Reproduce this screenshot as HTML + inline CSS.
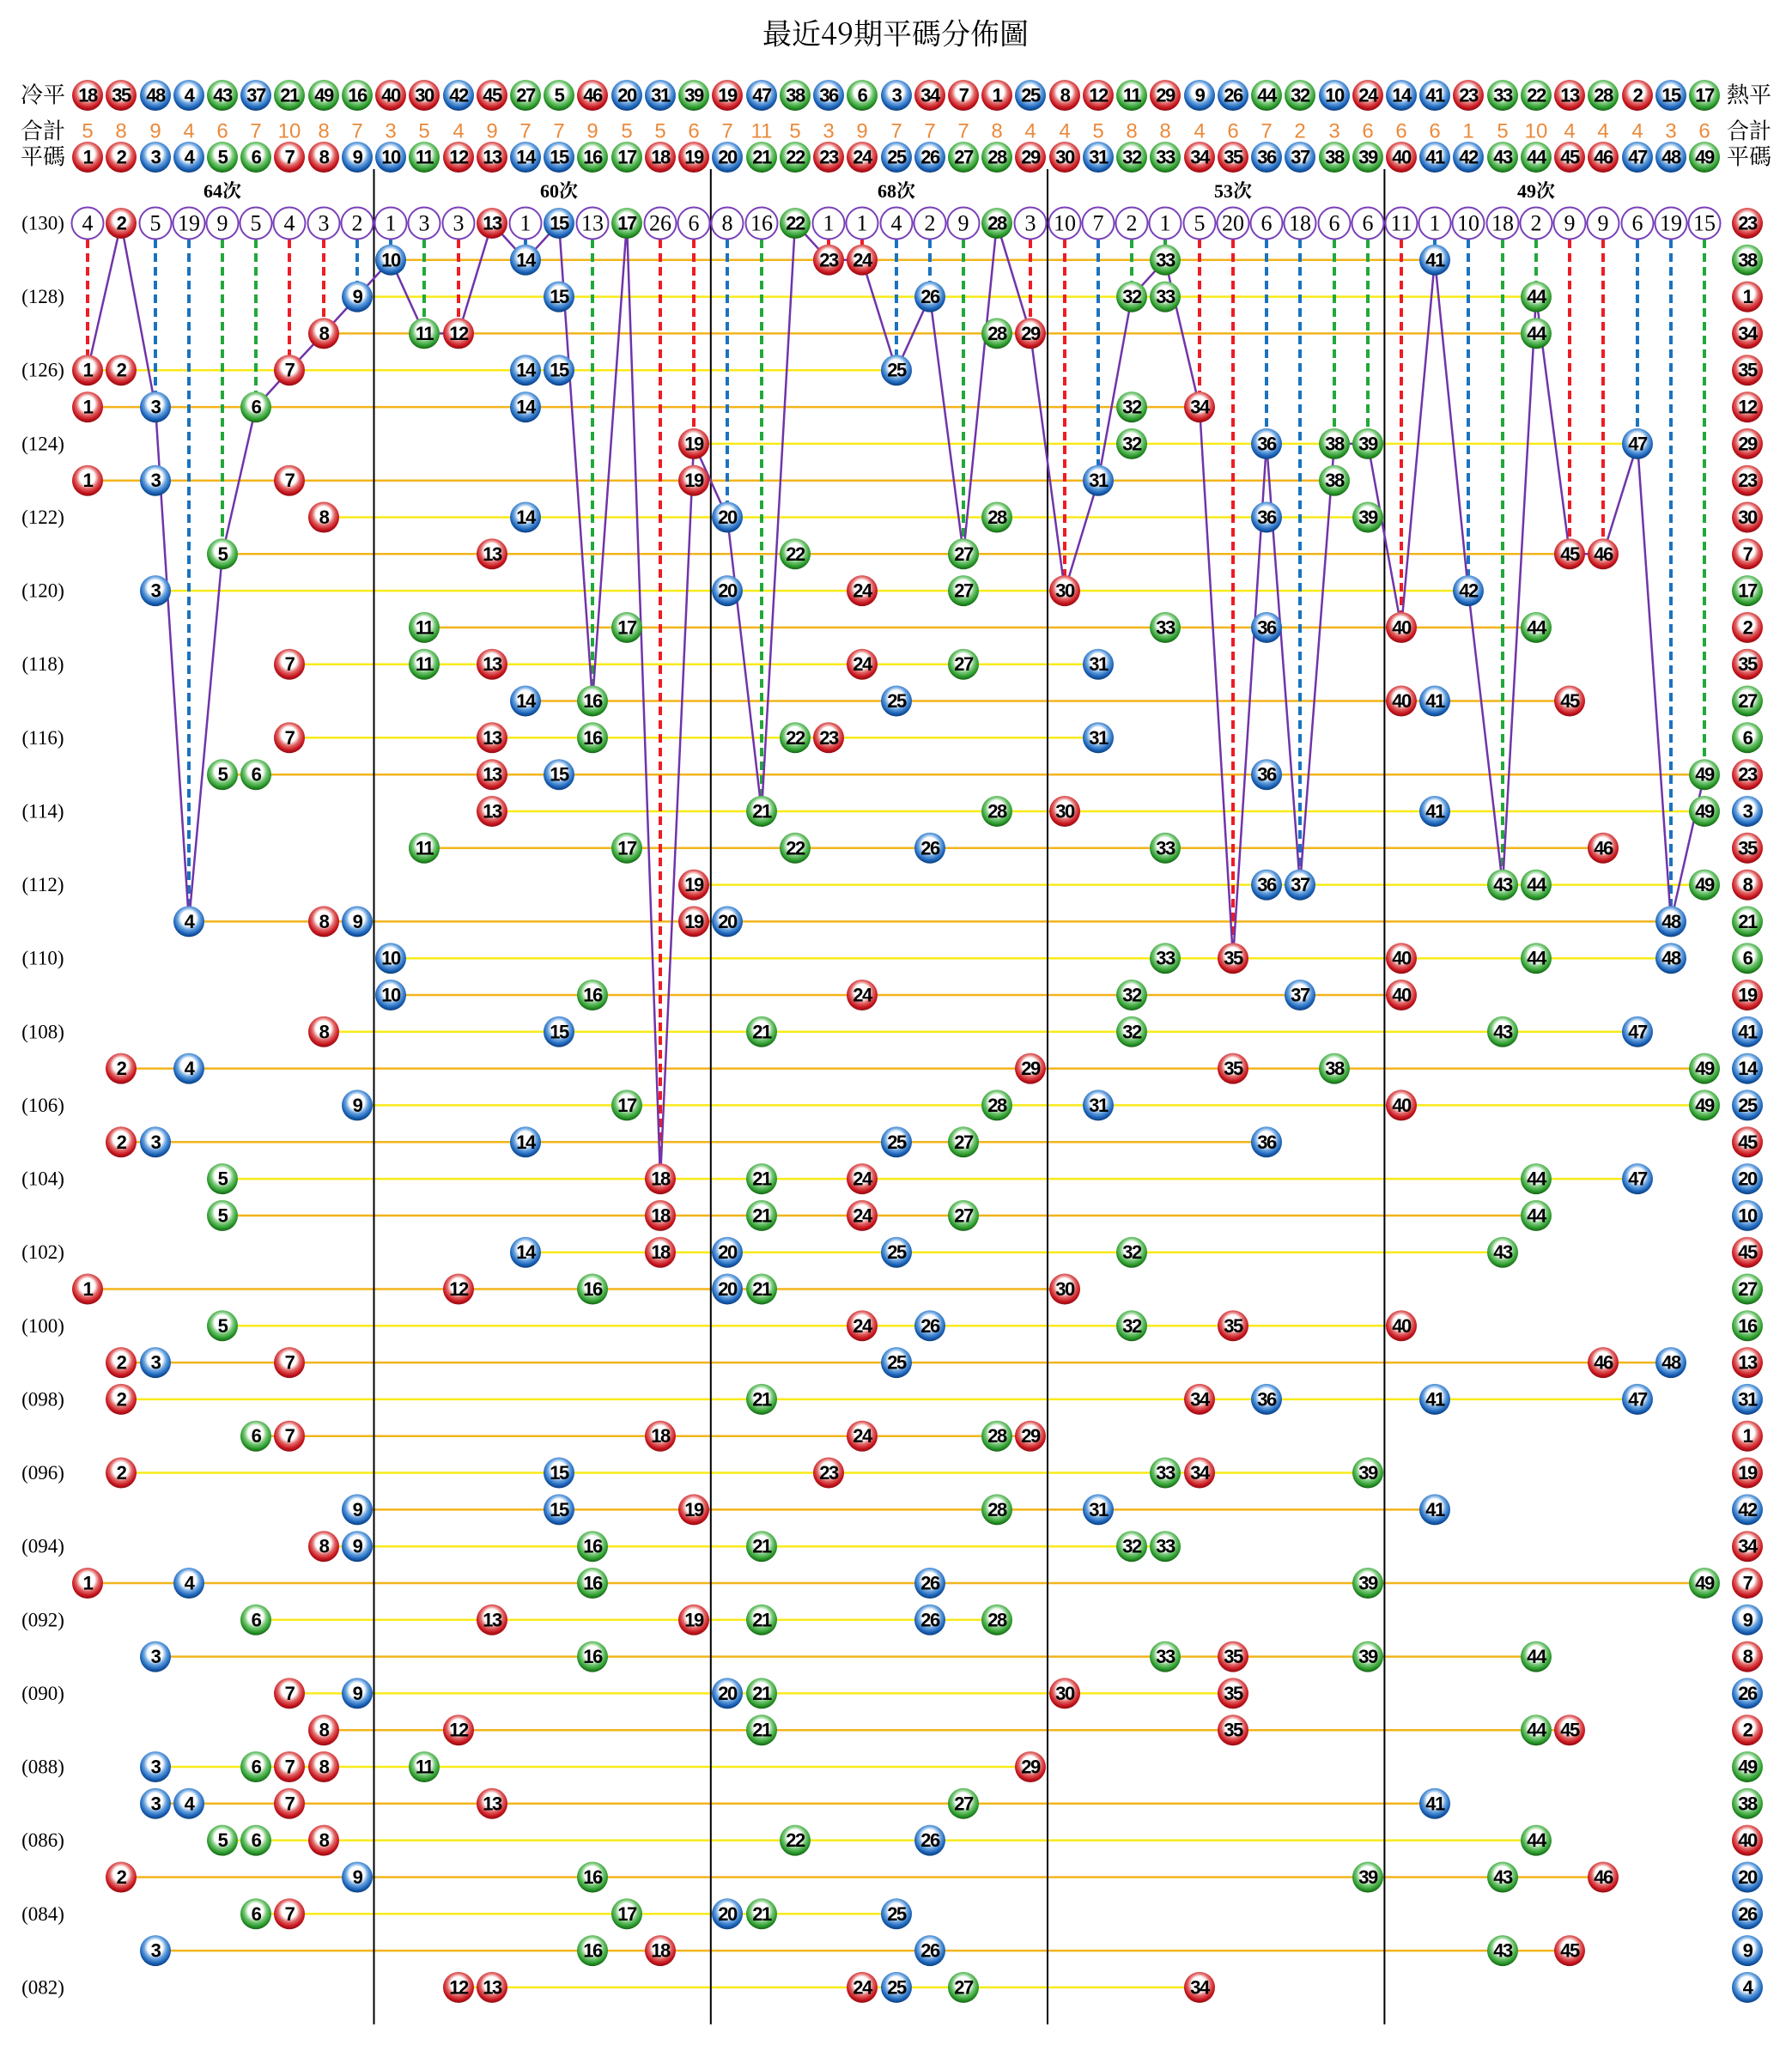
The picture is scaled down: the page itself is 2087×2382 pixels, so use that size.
<!DOCTYPE html>
<html><head><meta charset="utf-8"><style>
body{margin:0;background:#fff}
svg{display:block}
.r{fill:url(#gr)}.b{fill:url(#gb)}.g{fill:url(#gg)}
circle.r,circle.b,circle.g{r:18px}
.t text{font:bold 22px "Liberation Sans",sans-serif;text-anchor:middle;dominant-baseline:central;letter-spacing:-1.5px}
.c circle{r:18.5px;fill:#fff;stroke:#7a40b8;stroke-width:2}
.c text{font:26px "Liberation Serif",serif;text-anchor:middle;dominant-baseline:central}
.lab{font:23px "Liberation Serif",serif;text-anchor:middle;dominant-baseline:central}
.cj{font:26px "Liberation Serif","Noto Serif CJK SC",serif;text-anchor:middle;dominant-baseline:central}
.sum text{font:24px "Liberation Sans",sans-serif;fill:#ea8a3c;text-anchor:middle;dominant-baseline:central}
</style></head><body>
<svg width="2087" height="2382" viewBox="0 0 2087 2382" xmlns="http://www.w3.org/2000/svg">
<defs>
<radialGradient id="gr" cx="50%" cy="42%" r="58%" fx="48%" fy="38%"><stop offset="0" stop-color="#fff"/><stop offset=".42" stop-color="#fff"/><stop offset=".62" stop-color="#e26a6a"/><stop offset=".85" stop-color="#c8151e"/><stop offset="1" stop-color="#8e0c12"/></radialGradient>
<radialGradient id="gb" cx="50%" cy="42%" r="58%" fx="48%" fy="38%"><stop offset="0" stop-color="#fff"/><stop offset=".42" stop-color="#fff"/><stop offset=".62" stop-color="#6aa4e0"/><stop offset=".85" stop-color="#1a62b8"/><stop offset="1" stop-color="#0d3d7a"/></radialGradient>
<radialGradient id="gg" cx="50%" cy="42%" r="58%" fx="48%" fy="38%"><stop offset="0" stop-color="#fff"/><stop offset=".42" stop-color="#fff"/><stop offset=".62" stop-color="#78c878"/><stop offset=".85" stop-color="#2a9a2a"/><stop offset="1" stop-color="#176017"/></radialGradient>
</defs>
<text x="1043" y="37" class="cj" style="font-size:34px;font-family:'Noto Serif CJK SC',serif">最近49期平碼分佈圖</text>
<text x="50" y="111" class="cj">冷平</text><text x="50" y="153" class="cj">合計</text><text x="50" y="183" class="cj">平碼</text>
<text x="2037" y="111" class="cj">熱平</text><text x="2037" y="153" class="cj">合計</text><text x="2037" y="183" class="cj">平碼</text>
<g class="t" transform="translate(0,111)">
<circle class="r" cx="102"/><text x="102">18</text><circle class="r" cx="141"/><text x="141">35</text><circle class="b" cx="181"/><text x="181">48</text><circle class="b" cx="220"/><text x="220">4</text><circle class="g" cx="259"/><text x="259">43</text><circle class="b" cx="298"/><text x="298">37</text><circle class="g" cx="337"/><text x="337">21</text><circle class="g" cx="377"/><text x="377">49</text><circle class="g" cx="416"/><text x="416">16</text>
<circle class="r" cx="455"/><text x="455">40</text><circle class="r" cx="494"/><text x="494">30</text><circle class="b" cx="534"/><text x="534">42</text><circle class="r" cx="573"/><text x="573">45</text><circle class="g" cx="612"/><text x="612">27</text><circle class="g" cx="651"/><text x="651">5</text><circle class="r" cx="690"/><text x="690">46</text><circle class="b" cx="730"/><text x="730">20</text><circle class="b" cx="769"/><text x="769">31</text><circle class="g" cx="808"/><text x="808">39</text>
<circle class="r" cx="847"/><text x="847">19</text><circle class="b" cx="887"/><text x="887">47</text><circle class="g" cx="926"/><text x="926">38</text><circle class="b" cx="965"/><text x="965">36</text><circle class="g" cx="1004"/><text x="1004">6</text><circle class="b" cx="1044"/><text x="1044">3</text><circle class="r" cx="1083"/><text x="1083">34</text><circle class="r" cx="1122"/><text x="1122">7</text><circle class="r" cx="1161"/><text x="1161">1</text><circle class="b" cx="1200"/><text x="1200">25</text>
<circle class="r" cx="1240"/><text x="1240">8</text><circle class="r" cx="1279"/><text x="1279">12</text><circle class="g" cx="1318"/><text x="1318">11</text><circle class="r" cx="1357"/><text x="1357">29</text><circle class="b" cx="1397"/><text x="1397">9</text><circle class="b" cx="1436"/><text x="1436">26</text><circle class="g" cx="1475"/><text x="1475">44</text><circle class="g" cx="1514"/><text x="1514">32</text><circle class="b" cx="1554"/><text x="1554">10</text><circle class="r" cx="1593"/><text x="1593">24</text>
<circle class="b" cx="1632"/><text x="1632">14</text><circle class="b" cx="1671"/><text x="1671">41</text><circle class="r" cx="1710"/><text x="1710">23</text><circle class="g" cx="1750"/><text x="1750">33</text><circle class="g" cx="1789"/><text x="1789">22</text><circle class="r" cx="1828"/><text x="1828">13</text><circle class="g" cx="1867"/><text x="1867">28</text><circle class="r" cx="1907"/><text x="1907">2</text><circle class="b" cx="1946"/><text x="1946">15</text><circle class="g" cx="1985"/><text x="1985">17</text>
</g>
<g class="sum" transform="translate(0,153)">
<text x="102">5</text><text x="141">8</text><text x="181">9</text><text x="220">4</text><text x="259">6</text><text x="298">7</text><text x="337">10</text><text x="377">8</text><text x="416">7</text>
<text x="455">3</text><text x="494">5</text><text x="534">4</text><text x="573">9</text><text x="612">7</text><text x="651">7</text><text x="690">9</text><text x="730">5</text><text x="769">5</text><text x="808">6</text>
<text x="847">7</text><text x="887">11</text><text x="926">5</text><text x="965">3</text><text x="1004">9</text><text x="1044">7</text><text x="1083">7</text><text x="1122">7</text><text x="1161">8</text><text x="1200">4</text>
<text x="1240">4</text><text x="1279">5</text><text x="1318">8</text><text x="1357">8</text><text x="1397">4</text><text x="1436">6</text><text x="1475">7</text><text x="1514">2</text><text x="1554">3</text><text x="1593">6</text>
<text x="1632">6</text><text x="1671">6</text><text x="1710">1</text><text x="1750">5</text><text x="1789">10</text><text x="1828">4</text><text x="1867">4</text><text x="1907">4</text><text x="1946">3</text><text x="1985">6</text>
</g>
<g class="t" transform="translate(0,183)">
<circle class="r" cx="102"/><text x="102">1</text><circle class="r" cx="141"/><text x="141">2</text><circle class="b" cx="181"/><text x="181">3</text><circle class="b" cx="220"/><text x="220">4</text><circle class="g" cx="259"/><text x="259">5</text><circle class="g" cx="298"/><text x="298">6</text><circle class="r" cx="337"/><text x="337">7</text><circle class="r" cx="377"/><text x="377">8</text><circle class="b" cx="416"/><text x="416">9</text>
<circle class="b" cx="455"/><text x="455">10</text><circle class="g" cx="494"/><text x="494">11</text><circle class="r" cx="534"/><text x="534">12</text><circle class="r" cx="573"/><text x="573">13</text><circle class="b" cx="612"/><text x="612">14</text><circle class="b" cx="651"/><text x="651">15</text><circle class="g" cx="690"/><text x="690">16</text><circle class="g" cx="730"/><text x="730">17</text><circle class="r" cx="769"/><text x="769">18</text><circle class="r" cx="808"/><text x="808">19</text>
<circle class="b" cx="847"/><text x="847">20</text><circle class="g" cx="887"/><text x="887">21</text><circle class="g" cx="926"/><text x="926">22</text><circle class="r" cx="965"/><text x="965">23</text><circle class="r" cx="1004"/><text x="1004">24</text><circle class="b" cx="1044"/><text x="1044">25</text><circle class="b" cx="1083"/><text x="1083">26</text><circle class="g" cx="1122"/><text x="1122">27</text><circle class="g" cx="1161"/><text x="1161">28</text><circle class="r" cx="1200"/><text x="1200">29</text>
<circle class="r" cx="1240"/><text x="1240">30</text><circle class="b" cx="1279"/><text x="1279">31</text><circle class="g" cx="1318"/><text x="1318">32</text><circle class="g" cx="1357"/><text x="1357">33</text><circle class="r" cx="1397"/><text x="1397">34</text><circle class="r" cx="1436"/><text x="1436">35</text><circle class="b" cx="1475"/><text x="1475">36</text><circle class="b" cx="1514"/><text x="1514">37</text><circle class="g" cx="1554"/><text x="1554">38</text><circle class="g" cx="1593"/><text x="1593">39</text>
<circle class="r" cx="1632"/><text x="1632">40</text><circle class="b" cx="1671"/><text x="1671">41</text><circle class="b" cx="1710"/><text x="1710">42</text><circle class="g" cx="1750"/><text x="1750">43</text><circle class="g" cx="1789"/><text x="1789">44</text><circle class="r" cx="1828"/><text x="1828">45</text><circle class="r" cx="1867"/><text x="1867">46</text><circle class="b" cx="1907"/><text x="1907">47</text><circle class="b" cx="1946"/><text x="1946">48</text><circle class="g" cx="1985"/><text x="1985">49</text>
</g>
<g style="font:bold 22px 'Liberation Serif','Noto Serif CJK SC',serif;text-anchor:middle">
<text x="259" y="230">64次</text><text x="651" y="230">60次</text><text x="1044" y="230">68次</text><text x="1436" y="230">53次</text><text x="1789" y="230">49次</text>
</g>
<g class="lab">
<text x="50" y="260">(130)</text><text x="50" y="345.6">(128)</text><text x="50" y="431.2">(126)</text><text x="50" y="516.9">(124)</text><text x="50" y="602.5">(122)</text><text x="50" y="688.1">(120)</text><text x="50" y="773.7">(118)</text><text x="50" y="859.3">(116)</text><text x="50" y="945">(114)</text><text x="50" y="1030.6">(112)</text><text x="50" y="1116.2">(110)</text><text x="50" y="1201.8">(108)</text><text x="50" y="1287.4">(106)</text><text x="50" y="1373.1">(104)</text><text x="50" y="1458.7">(102)</text><text x="50" y="1544.3">(100)</text><text x="50" y="1629.9">(098)</text><text x="50" y="1715.5">(096)</text><text x="50" y="1801.2">(094)</text><text x="50" y="1886.8">(092)</text><text x="50" y="1972.4">(090)</text><text x="50" y="2058">(088)</text><text x="50" y="2143.6">(086)</text><text x="50" y="2229.3">(084)</text><text x="50" y="2314.9">(082)</text>
</g>
<path fill="none" stroke="#f2b41c" stroke-width="2.5" d="M455 302.8H1671M377 388.4H1789M102 474.1H1397M102 559.7H1554M259 645.3H1867M494 730.9H1789M612 816.5H1828M259 902.2H1985M494 987.8H1867M220 1073.4H1946M455 1159H1632M141 1244.6H1985M141 1330.3H1475M259 1415.9H1789M102 1501.5H1240M141 1587.1H1946M298 1672.7H1200M416 1758.4H1671M102 1844H1985M181 1929.6H1789M377 2015.2H1828M181 2100.8H1671M141 2186.5H1867M181 2272.1H1828"/>
<path fill="none" stroke="#f8ea1a" stroke-width="2.5" d="M416 345.6H1789M102 431.2H1044M808 516.9H1907M377 602.5H1593M181 688.1H1710M337 773.7H1279M337 859.3H1279M573 945H1985M808 1030.6H1985M455 1116.2H1946M377 1201.8H1907M416 1287.4H1985M259 1373.1H1907M612 1458.7H1750M259 1544.3H1632M141 1629.9H1907M141 1715.5H1593M377 1801.2H1357M298 1886.8H1161M337 1972.4H1436M181 2058H1200M259 2143.6H1789M298 2229.3H1044M534 2314.9H1397"/>
<path stroke="#000" stroke-width="2" d="M435.5 197V2358M827.8 197V2358M1220 197V2358M1612.4 197V2358"/>
<g fill="none" stroke-width="4" stroke-dasharray="10 6">
<path stroke="#ee1c24" d="M102 279V414M337 279V414M377 279V371M534 279V371M769 279V1356M808 279V500M965 279V286M1004 279V286M1200 279V371M1240 279V671M1397 279V457M1436 279V1099M1632 279V714M1828 279V628M1867 279V628"/>
<path stroke="#1a73c0" d="M181 279V457M220 279V1056M416 279V329M455 279V286M612 279V286M847 279V586M1044 279V414M1083 279V329M1279 279V543M1475 279V500M1514 279V1014M1671 279V286M1710 279V671M1907 279V500M1946 279V1056"/>
<path stroke="#22a83a" d="M259 279V628M298 279V457M494 279V371M690 279V800M887 279V928M1122 279V628M1318 279V329M1357 279V286M1554 279V500M1593 279V500M1750 279V1014M1789 279V329M1985 279V885"/>
</g>
<polyline fill="none" stroke="#7034a8" stroke-width="2.5" points="102,431.2 141,260 181,474.1 220,1073.4 259,645.3 298,474.1 337,431.2 377,388.4 416,345.6 455,302.8 494,388.4 534,388.4 573,260 612,302.8 651,260 690,816.5 730,260 769,1373.1 808,516.9 847,602.5 887,945 926,260 965,302.8 1004,302.8 1044,431.2 1083,345.6 1122,645.3 1161,260 1200,388.4 1240,688.1 1279,559.7 1318,345.6 1357,302.8 1397,474.1 1436,1116.2 1475,516.9 1514,1030.6 1554,516.9 1593,516.9 1632,730.9 1671,302.8 1710,688.1 1750,1030.6 1789,345.6 1828,645.3 1867,645.3 1907,516.9 1946,1073.4 1985,902.2"/>
<g class="c" transform="translate(0,260)">
<circle cx="102"/><text x="102">4</text><circle cx="181"/><text x="181">5</text><circle cx="220"/><text x="220">19</text><circle cx="259"/><text x="259">9</text><circle cx="298"/><text x="298">5</text><circle cx="337"/><text x="337">4</text><circle cx="377"/><text x="377">3</text><circle cx="416"/><text x="416">2</text>
<circle cx="455"/><text x="455">1</text><circle cx="494"/><text x="494">3</text><circle cx="534"/><text x="534">3</text><circle cx="612"/><text x="612">1</text><circle cx="690"/><text x="690">13</text><circle cx="769"/><text x="769">26</text><circle cx="808"/><text x="808">6</text>
<circle cx="847"/><text x="847">8</text><circle cx="887"/><text x="887">16</text><circle cx="965"/><text x="965">1</text><circle cx="1004"/><text x="1004">1</text><circle cx="1044"/><text x="1044">4</text><circle cx="1083"/><text x="1083">2</text><circle cx="1122"/><text x="1122">9</text><circle cx="1200"/><text x="1200">3</text>
<circle cx="1240"/><text x="1240">10</text><circle cx="1279"/><text x="1279">7</text><circle cx="1318"/><text x="1318">2</text><circle cx="1357"/><text x="1357">1</text><circle cx="1397"/><text x="1397">5</text><circle cx="1436"/><text x="1436">20</text><circle cx="1475"/><text x="1475">6</text><circle cx="1514"/><text x="1514">18</text><circle cx="1554"/><text x="1554">6</text><circle cx="1593"/><text x="1593">6</text>
<circle cx="1632"/><text x="1632">11</text><circle cx="1671"/><text x="1671">1</text><circle cx="1710"/><text x="1710">10</text><circle cx="1750"/><text x="1750">18</text><circle cx="1789"/><text x="1789">2</text><circle cx="1828"/><text x="1828">9</text><circle cx="1867"/><text x="1867">9</text><circle cx="1907"/><text x="1907">6</text><circle cx="1946"/><text x="1946">19</text><circle cx="1985"/><text x="1985">15</text>
</g>
<g class="t">
<g transform="translate(0,260)"><circle class="r" cx="141"/><text x="141">2</text><circle class="r" cx="573"/><text x="573">13</text><circle class="b" cx="651"/><text x="651">15</text><circle class="g" cx="730"/><text x="730">17</text><circle class="g" cx="926"/><text x="926">22</text><circle class="g" cx="1161"/><text x="1161">28</text><circle class="r" cx="2035"/><text x="2035">23</text></g>
<g transform="translate(0,302.8)"><circle class="b" cx="455"/><text x="455">10</text><circle class="b" cx="612"/><text x="612">14</text><circle class="r" cx="965"/><text x="965">23</text><circle class="r" cx="1004"/><text x="1004">24</text><circle class="g" cx="1357"/><text x="1357">33</text><circle class="b" cx="1671"/><text x="1671">41</text><circle class="g" cx="2035"/><text x="2035">38</text></g>
<g transform="translate(0,345.6)"><circle class="b" cx="416"/><text x="416">9</text><circle class="b" cx="651"/><text x="651">15</text><circle class="b" cx="1083"/><text x="1083">26</text><circle class="g" cx="1318"/><text x="1318">32</text><circle class="g" cx="1357"/><text x="1357">33</text><circle class="g" cx="1789"/><text x="1789">44</text><circle class="r" cx="2035"/><text x="2035">1</text></g>
<g transform="translate(0,388.4)"><circle class="r" cx="377"/><text x="377">8</text><circle class="g" cx="494"/><text x="494">11</text><circle class="r" cx="534"/><text x="534">12</text><circle class="g" cx="1161"/><text x="1161">28</text><circle class="r" cx="1200"/><text x="1200">29</text><circle class="g" cx="1789"/><text x="1789">44</text><circle class="r" cx="2035"/><text x="2035">34</text></g>
<g transform="translate(0,431.2)"><circle class="r" cx="102"/><text x="102">1</text><circle class="r" cx="141"/><text x="141">2</text><circle class="r" cx="337"/><text x="337">7</text><circle class="b" cx="612"/><text x="612">14</text><circle class="b" cx="651"/><text x="651">15</text><circle class="b" cx="1044"/><text x="1044">25</text><circle class="r" cx="2035"/><text x="2035">35</text></g>
<g transform="translate(0,474.1)"><circle class="r" cx="102"/><text x="102">1</text><circle class="b" cx="181"/><text x="181">3</text><circle class="g" cx="298"/><text x="298">6</text><circle class="b" cx="612"/><text x="612">14</text><circle class="g" cx="1318"/><text x="1318">32</text><circle class="r" cx="1397"/><text x="1397">34</text><circle class="r" cx="2035"/><text x="2035">12</text></g>
<g transform="translate(0,516.9)"><circle class="r" cx="808"/><text x="808">19</text><circle class="g" cx="1318"/><text x="1318">32</text><circle class="b" cx="1475"/><text x="1475">36</text><circle class="g" cx="1554"/><text x="1554">38</text><circle class="g" cx="1593"/><text x="1593">39</text><circle class="b" cx="1907"/><text x="1907">47</text><circle class="r" cx="2035"/><text x="2035">29</text></g>
<g transform="translate(0,559.7)"><circle class="r" cx="102"/><text x="102">1</text><circle class="b" cx="181"/><text x="181">3</text><circle class="r" cx="337"/><text x="337">7</text><circle class="r" cx="808"/><text x="808">19</text><circle class="b" cx="1279"/><text x="1279">31</text><circle class="g" cx="1554"/><text x="1554">38</text><circle class="r" cx="2035"/><text x="2035">23</text></g>
<g transform="translate(0,602.5)"><circle class="r" cx="377"/><text x="377">8</text><circle class="b" cx="612"/><text x="612">14</text><circle class="b" cx="847"/><text x="847">20</text><circle class="g" cx="1161"/><text x="1161">28</text><circle class="b" cx="1475"/><text x="1475">36</text><circle class="g" cx="1593"/><text x="1593">39</text><circle class="r" cx="2035"/><text x="2035">30</text></g>
<g transform="translate(0,645.3)"><circle class="g" cx="259"/><text x="259">5</text><circle class="r" cx="573"/><text x="573">13</text><circle class="g" cx="926"/><text x="926">22</text><circle class="g" cx="1122"/><text x="1122">27</text><circle class="r" cx="1828"/><text x="1828">45</text><circle class="r" cx="1867"/><text x="1867">46</text><circle class="r" cx="2035"/><text x="2035">7</text></g>
<g transform="translate(0,688.1)"><circle class="b" cx="181"/><text x="181">3</text><circle class="b" cx="847"/><text x="847">20</text><circle class="r" cx="1004"/><text x="1004">24</text><circle class="g" cx="1122"/><text x="1122">27</text><circle class="r" cx="1240"/><text x="1240">30</text><circle class="b" cx="1710"/><text x="1710">42</text><circle class="g" cx="2035"/><text x="2035">17</text></g>
<g transform="translate(0,730.9)"><circle class="g" cx="494"/><text x="494">11</text><circle class="g" cx="730"/><text x="730">17</text><circle class="g" cx="1357"/><text x="1357">33</text><circle class="b" cx="1475"/><text x="1475">36</text><circle class="r" cx="1632"/><text x="1632">40</text><circle class="g" cx="1789"/><text x="1789">44</text><circle class="r" cx="2035"/><text x="2035">2</text></g>
<g transform="translate(0,773.7)"><circle class="r" cx="337"/><text x="337">7</text><circle class="g" cx="494"/><text x="494">11</text><circle class="r" cx="573"/><text x="573">13</text><circle class="r" cx="1004"/><text x="1004">24</text><circle class="g" cx="1122"/><text x="1122">27</text><circle class="b" cx="1279"/><text x="1279">31</text><circle class="r" cx="2035"/><text x="2035">35</text></g>
<g transform="translate(0,816.5)"><circle class="b" cx="612"/><text x="612">14</text><circle class="g" cx="690"/><text x="690">16</text><circle class="b" cx="1044"/><text x="1044">25</text><circle class="r" cx="1632"/><text x="1632">40</text><circle class="b" cx="1671"/><text x="1671">41</text><circle class="r" cx="1828"/><text x="1828">45</text><circle class="g" cx="2035"/><text x="2035">27</text></g>
<g transform="translate(0,859.3)"><circle class="r" cx="337"/><text x="337">7</text><circle class="r" cx="573"/><text x="573">13</text><circle class="g" cx="690"/><text x="690">16</text><circle class="g" cx="926"/><text x="926">22</text><circle class="r" cx="965"/><text x="965">23</text><circle class="b" cx="1279"/><text x="1279">31</text><circle class="g" cx="2035"/><text x="2035">6</text></g>
<g transform="translate(0,902.2)"><circle class="g" cx="259"/><text x="259">5</text><circle class="g" cx="298"/><text x="298">6</text><circle class="r" cx="573"/><text x="573">13</text><circle class="b" cx="651"/><text x="651">15</text><circle class="b" cx="1475"/><text x="1475">36</text><circle class="g" cx="1985"/><text x="1985">49</text><circle class="r" cx="2035"/><text x="2035">23</text></g>
<g transform="translate(0,945)"><circle class="r" cx="573"/><text x="573">13</text><circle class="g" cx="887"/><text x="887">21</text><circle class="g" cx="1161"/><text x="1161">28</text><circle class="r" cx="1240"/><text x="1240">30</text><circle class="b" cx="1671"/><text x="1671">41</text><circle class="g" cx="1985"/><text x="1985">49</text><circle class="b" cx="2035"/><text x="2035">3</text></g>
<g transform="translate(0,987.8)"><circle class="g" cx="494"/><text x="494">11</text><circle class="g" cx="730"/><text x="730">17</text><circle class="g" cx="926"/><text x="926">22</text><circle class="b" cx="1083"/><text x="1083">26</text><circle class="g" cx="1357"/><text x="1357">33</text><circle class="r" cx="1867"/><text x="1867">46</text><circle class="r" cx="2035"/><text x="2035">35</text></g>
<g transform="translate(0,1030.6)"><circle class="r" cx="808"/><text x="808">19</text><circle class="b" cx="1475"/><text x="1475">36</text><circle class="b" cx="1514"/><text x="1514">37</text><circle class="g" cx="1750"/><text x="1750">43</text><circle class="g" cx="1789"/><text x="1789">44</text><circle class="g" cx="1985"/><text x="1985">49</text><circle class="r" cx="2035"/><text x="2035">8</text></g>
<g transform="translate(0,1073.4)"><circle class="b" cx="220"/><text x="220">4</text><circle class="r" cx="377"/><text x="377">8</text><circle class="b" cx="416"/><text x="416">9</text><circle class="r" cx="808"/><text x="808">19</text><circle class="b" cx="847"/><text x="847">20</text><circle class="b" cx="1946"/><text x="1946">48</text><circle class="g" cx="2035"/><text x="2035">21</text></g>
<g transform="translate(0,1116.2)"><circle class="b" cx="455"/><text x="455">10</text><circle class="g" cx="1357"/><text x="1357">33</text><circle class="r" cx="1436"/><text x="1436">35</text><circle class="r" cx="1632"/><text x="1632">40</text><circle class="g" cx="1789"/><text x="1789">44</text><circle class="b" cx="1946"/><text x="1946">48</text><circle class="g" cx="2035"/><text x="2035">6</text></g>
<g transform="translate(0,1159)"><circle class="b" cx="455"/><text x="455">10</text><circle class="g" cx="690"/><text x="690">16</text><circle class="r" cx="1004"/><text x="1004">24</text><circle class="g" cx="1318"/><text x="1318">32</text><circle class="b" cx="1514"/><text x="1514">37</text><circle class="r" cx="1632"/><text x="1632">40</text><circle class="r" cx="2035"/><text x="2035">19</text></g>
<g transform="translate(0,1201.8)"><circle class="r" cx="377"/><text x="377">8</text><circle class="b" cx="651"/><text x="651">15</text><circle class="g" cx="887"/><text x="887">21</text><circle class="g" cx="1318"/><text x="1318">32</text><circle class="g" cx="1750"/><text x="1750">43</text><circle class="b" cx="1907"/><text x="1907">47</text><circle class="b" cx="2035"/><text x="2035">41</text></g>
<g transform="translate(0,1244.6)"><circle class="r" cx="141"/><text x="141">2</text><circle class="b" cx="220"/><text x="220">4</text><circle class="r" cx="1200"/><text x="1200">29</text><circle class="r" cx="1436"/><text x="1436">35</text><circle class="g" cx="1554"/><text x="1554">38</text><circle class="g" cx="1985"/><text x="1985">49</text><circle class="b" cx="2035"/><text x="2035">14</text></g>
<g transform="translate(0,1287.4)"><circle class="b" cx="416"/><text x="416">9</text><circle class="g" cx="730"/><text x="730">17</text><circle class="g" cx="1161"/><text x="1161">28</text><circle class="b" cx="1279"/><text x="1279">31</text><circle class="r" cx="1632"/><text x="1632">40</text><circle class="g" cx="1985"/><text x="1985">49</text><circle class="b" cx="2035"/><text x="2035">25</text></g>
<g transform="translate(0,1330.3)"><circle class="r" cx="141"/><text x="141">2</text><circle class="b" cx="181"/><text x="181">3</text><circle class="b" cx="612"/><text x="612">14</text><circle class="b" cx="1044"/><text x="1044">25</text><circle class="g" cx="1122"/><text x="1122">27</text><circle class="b" cx="1475"/><text x="1475">36</text><circle class="r" cx="2035"/><text x="2035">45</text></g>
<g transform="translate(0,1373.1)"><circle class="g" cx="259"/><text x="259">5</text><circle class="r" cx="769"/><text x="769">18</text><circle class="g" cx="887"/><text x="887">21</text><circle class="r" cx="1004"/><text x="1004">24</text><circle class="g" cx="1789"/><text x="1789">44</text><circle class="b" cx="1907"/><text x="1907">47</text><circle class="b" cx="2035"/><text x="2035">20</text></g>
<g transform="translate(0,1415.9)"><circle class="g" cx="259"/><text x="259">5</text><circle class="r" cx="769"/><text x="769">18</text><circle class="g" cx="887"/><text x="887">21</text><circle class="r" cx="1004"/><text x="1004">24</text><circle class="g" cx="1122"/><text x="1122">27</text><circle class="g" cx="1789"/><text x="1789">44</text><circle class="b" cx="2035"/><text x="2035">10</text></g>
<g transform="translate(0,1458.7)"><circle class="b" cx="612"/><text x="612">14</text><circle class="r" cx="769"/><text x="769">18</text><circle class="b" cx="847"/><text x="847">20</text><circle class="b" cx="1044"/><text x="1044">25</text><circle class="g" cx="1318"/><text x="1318">32</text><circle class="g" cx="1750"/><text x="1750">43</text><circle class="r" cx="2035"/><text x="2035">45</text></g>
<g transform="translate(0,1501.5)"><circle class="r" cx="102"/><text x="102">1</text><circle class="r" cx="534"/><text x="534">12</text><circle class="g" cx="690"/><text x="690">16</text><circle class="b" cx="847"/><text x="847">20</text><circle class="g" cx="887"/><text x="887">21</text><circle class="r" cx="1240"/><text x="1240">30</text><circle class="g" cx="2035"/><text x="2035">27</text></g>
<g transform="translate(0,1544.3)"><circle class="g" cx="259"/><text x="259">5</text><circle class="r" cx="1004"/><text x="1004">24</text><circle class="b" cx="1083"/><text x="1083">26</text><circle class="g" cx="1318"/><text x="1318">32</text><circle class="r" cx="1436"/><text x="1436">35</text><circle class="r" cx="1632"/><text x="1632">40</text><circle class="g" cx="2035"/><text x="2035">16</text></g>
<g transform="translate(0,1587.1)"><circle class="r" cx="141"/><text x="141">2</text><circle class="b" cx="181"/><text x="181">3</text><circle class="r" cx="337"/><text x="337">7</text><circle class="b" cx="1044"/><text x="1044">25</text><circle class="r" cx="1867"/><text x="1867">46</text><circle class="b" cx="1946"/><text x="1946">48</text><circle class="r" cx="2035"/><text x="2035">13</text></g>
<g transform="translate(0,1629.9)"><circle class="r" cx="141"/><text x="141">2</text><circle class="g" cx="887"/><text x="887">21</text><circle class="r" cx="1397"/><text x="1397">34</text><circle class="b" cx="1475"/><text x="1475">36</text><circle class="b" cx="1671"/><text x="1671">41</text><circle class="b" cx="1907"/><text x="1907">47</text><circle class="b" cx="2035"/><text x="2035">31</text></g>
<g transform="translate(0,1672.7)"><circle class="g" cx="298"/><text x="298">6</text><circle class="r" cx="337"/><text x="337">7</text><circle class="r" cx="769"/><text x="769">18</text><circle class="r" cx="1004"/><text x="1004">24</text><circle class="g" cx="1161"/><text x="1161">28</text><circle class="r" cx="1200"/><text x="1200">29</text><circle class="r" cx="2035"/><text x="2035">1</text></g>
<g transform="translate(0,1715.5)"><circle class="r" cx="141"/><text x="141">2</text><circle class="b" cx="651"/><text x="651">15</text><circle class="r" cx="965"/><text x="965">23</text><circle class="g" cx="1357"/><text x="1357">33</text><circle class="r" cx="1397"/><text x="1397">34</text><circle class="g" cx="1593"/><text x="1593">39</text><circle class="r" cx="2035"/><text x="2035">19</text></g>
<g transform="translate(0,1758.4)"><circle class="b" cx="416"/><text x="416">9</text><circle class="b" cx="651"/><text x="651">15</text><circle class="r" cx="808"/><text x="808">19</text><circle class="g" cx="1161"/><text x="1161">28</text><circle class="b" cx="1279"/><text x="1279">31</text><circle class="b" cx="1671"/><text x="1671">41</text><circle class="b" cx="2035"/><text x="2035">42</text></g>
<g transform="translate(0,1801.2)"><circle class="r" cx="377"/><text x="377">8</text><circle class="b" cx="416"/><text x="416">9</text><circle class="g" cx="690"/><text x="690">16</text><circle class="g" cx="887"/><text x="887">21</text><circle class="g" cx="1318"/><text x="1318">32</text><circle class="g" cx="1357"/><text x="1357">33</text><circle class="r" cx="2035"/><text x="2035">34</text></g>
<g transform="translate(0,1844)"><circle class="r" cx="102"/><text x="102">1</text><circle class="b" cx="220"/><text x="220">4</text><circle class="g" cx="690"/><text x="690">16</text><circle class="b" cx="1083"/><text x="1083">26</text><circle class="g" cx="1593"/><text x="1593">39</text><circle class="g" cx="1985"/><text x="1985">49</text><circle class="r" cx="2035"/><text x="2035">7</text></g>
<g transform="translate(0,1886.8)"><circle class="g" cx="298"/><text x="298">6</text><circle class="r" cx="573"/><text x="573">13</text><circle class="r" cx="808"/><text x="808">19</text><circle class="g" cx="887"/><text x="887">21</text><circle class="b" cx="1083"/><text x="1083">26</text><circle class="g" cx="1161"/><text x="1161">28</text><circle class="b" cx="2035"/><text x="2035">9</text></g>
<g transform="translate(0,1929.6)"><circle class="b" cx="181"/><text x="181">3</text><circle class="g" cx="690"/><text x="690">16</text><circle class="g" cx="1357"/><text x="1357">33</text><circle class="r" cx="1436"/><text x="1436">35</text><circle class="g" cx="1593"/><text x="1593">39</text><circle class="g" cx="1789"/><text x="1789">44</text><circle class="r" cx="2035"/><text x="2035">8</text></g>
<g transform="translate(0,1972.4)"><circle class="r" cx="337"/><text x="337">7</text><circle class="b" cx="416"/><text x="416">9</text><circle class="b" cx="847"/><text x="847">20</text><circle class="g" cx="887"/><text x="887">21</text><circle class="r" cx="1240"/><text x="1240">30</text><circle class="r" cx="1436"/><text x="1436">35</text><circle class="b" cx="2035"/><text x="2035">26</text></g>
<g transform="translate(0,2015.2)"><circle class="r" cx="377"/><text x="377">8</text><circle class="r" cx="534"/><text x="534">12</text><circle class="g" cx="887"/><text x="887">21</text><circle class="r" cx="1436"/><text x="1436">35</text><circle class="g" cx="1789"/><text x="1789">44</text><circle class="r" cx="1828"/><text x="1828">45</text><circle class="r" cx="2035"/><text x="2035">2</text></g>
<g transform="translate(0,2058)"><circle class="b" cx="181"/><text x="181">3</text><circle class="g" cx="298"/><text x="298">6</text><circle class="r" cx="337"/><text x="337">7</text><circle class="r" cx="377"/><text x="377">8</text><circle class="g" cx="494"/><text x="494">11</text><circle class="r" cx="1200"/><text x="1200">29</text><circle class="g" cx="2035"/><text x="2035">49</text></g>
<g transform="translate(0,2100.8)"><circle class="b" cx="181"/><text x="181">3</text><circle class="b" cx="220"/><text x="220">4</text><circle class="r" cx="337"/><text x="337">7</text><circle class="r" cx="573"/><text x="573">13</text><circle class="g" cx="1122"/><text x="1122">27</text><circle class="b" cx="1671"/><text x="1671">41</text><circle class="g" cx="2035"/><text x="2035">38</text></g>
<g transform="translate(0,2143.6)"><circle class="g" cx="259"/><text x="259">5</text><circle class="g" cx="298"/><text x="298">6</text><circle class="r" cx="377"/><text x="377">8</text><circle class="g" cx="926"/><text x="926">22</text><circle class="b" cx="1083"/><text x="1083">26</text><circle class="g" cx="1789"/><text x="1789">44</text><circle class="r" cx="2035"/><text x="2035">40</text></g>
<g transform="translate(0,2186.5)"><circle class="r" cx="141"/><text x="141">2</text><circle class="b" cx="416"/><text x="416">9</text><circle class="g" cx="690"/><text x="690">16</text><circle class="g" cx="1593"/><text x="1593">39</text><circle class="g" cx="1750"/><text x="1750">43</text><circle class="r" cx="1867"/><text x="1867">46</text><circle class="b" cx="2035"/><text x="2035">20</text></g>
<g transform="translate(0,2229.3)"><circle class="g" cx="298"/><text x="298">6</text><circle class="r" cx="337"/><text x="337">7</text><circle class="g" cx="730"/><text x="730">17</text><circle class="b" cx="847"/><text x="847">20</text><circle class="g" cx="887"/><text x="887">21</text><circle class="b" cx="1044"/><text x="1044">25</text><circle class="b" cx="2035"/><text x="2035">26</text></g>
<g transform="translate(0,2272.1)"><circle class="b" cx="181"/><text x="181">3</text><circle class="g" cx="690"/><text x="690">16</text><circle class="r" cx="769"/><text x="769">18</text><circle class="b" cx="1083"/><text x="1083">26</text><circle class="g" cx="1750"/><text x="1750">43</text><circle class="r" cx="1828"/><text x="1828">45</text><circle class="b" cx="2035"/><text x="2035">9</text></g>
<g transform="translate(0,2314.9)"><circle class="r" cx="534"/><text x="534">12</text><circle class="r" cx="573"/><text x="573">13</text><circle class="r" cx="1004"/><text x="1004">24</text><circle class="b" cx="1044"/><text x="1044">25</text><circle class="g" cx="1122"/><text x="1122">27</text><circle class="r" cx="1397"/><text x="1397">34</text><circle class="b" cx="2035"/><text x="2035">4</text></g>
</g>
</svg>
</body></html>
